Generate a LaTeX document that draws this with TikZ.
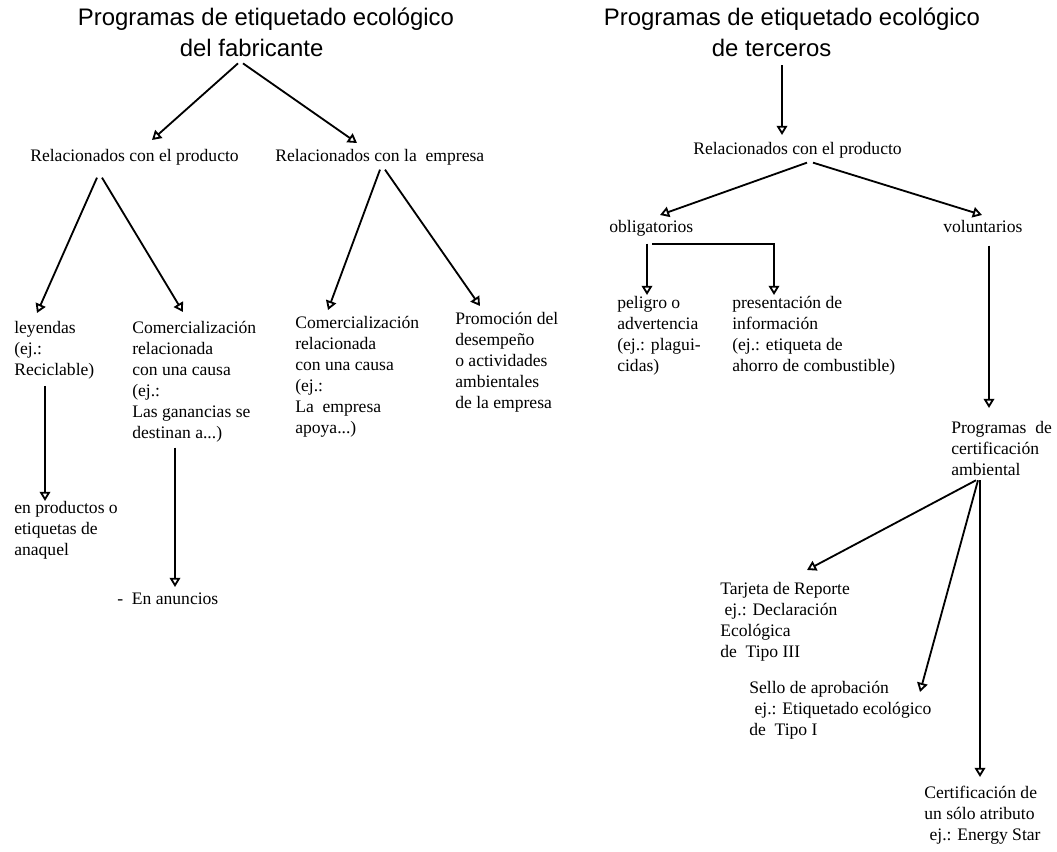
\documentclass[tikz,border=0pt]{standalone}
\usepackage{fontspec}
\setmainfont{Liberation Serif}
\setsansfont{Liberation Sans}
\usetikzlibrary{arrows.meta}

\begin{document}
\begin{tikzpicture}[x=0.025cm,y=-0.025cm,
  titulo/.style={font=\sffamily\fontsize{17}{22}\selectfont,align=center,anchor=north,inner sep=0pt,
    execute at begin node=\strut,execute at end node=\strut},
  texto/.style={font=\fontsize{12.5}{15}\selectfont,align=left,anchor=north west,inner sep=0pt,
    execute at begin node=\strut,execute at end node=\strut},
  flecha/.style={line width=1.3pt,-{Triangle[open,length=6.5pt,width=7.5pt]}}]

\useasboundingbox (0,0) rectangle (1057,852); % page

% left tree
\node[titulo] (fab) at (266,8) {Programas de etiquetado ecológico\\del fabricante\hspace*{1.2em}};
\node[texto] (prod) at (30,146) {Relacionados con el producto};
\node[texto] (emp) at (275,146) {Relacionados con la\ \ empresa};
\node[texto] (ley) at (14,321) {leyendas\\(ej.:\\Reciclable)};
\node[texto] (com1) at (132,321) {Comercialización\\relacionada\\con una causa\\(ej.:\\Las ganancias se\\destinan a...)};
\node[texto] (com2) at (295,316) {Comercialización\\relacionada\\con una causa\\(ej.:\\La\ \ empresa\\apoya...)};
\node[texto] (promo) at (455,312) {Promoción del\\desempeño\\o actividades\\ambientales\\de la empresa};
\node[texto] (anaq) at (14,501) {en productos o\\etiquetas de\\anaquel};
\node[texto] (anun) at (117,589) {-\ \ En anuncios};

\draw[flecha] ([shift={(-28,-3)}]fab.south) -- ([shift={(122,-6)}]prod.north west);
\draw[flecha] ([shift={(-23,-3)}]fab.south) -- ([shift={(82,-3)}]emp.north west);
\draw[flecha] ([shift={(67,10)}]prod.south west) -- ([shift={(23,-8)}]ley.north west);
\draw[flecha] ([shift={(72,10)}]prod.south west) -- ([shift={(51,-9)}]com1.north west);
\draw[flecha] ([shift={(105,2)}]emp.south west) -- ([shift={(33,-6)}]com2.north west);
\draw[flecha] ([shift={(110,2)}]emp.south west) -- ([shift={(25,-6)}]promo.north west);
\draw[flecha] ([shift={(31,3.5)}]ley.south west) -- ([shift={(31,0)}]anaq.north west);
\draw[flecha] ([shift={(43,2)}]com1.south west) -- ([shift={(58,-2)}]anun.north west);

% right tree
\node[titulo] (ter) at (792,8) {Programas de etiquetado ecológico\\de terceros\hspace*{1.7em}};
\node[texto] (prod2) at (693,139) {Relacionados con el producto};
\node[texto] (oblig) at (609,217) {obligatorios};
\node[texto] (volun) at (943,217) {voluntarios};
\node[texto] (peligro) at (617,296) {peligro o\\advertencia\\(ej.: plagui-\\cidas)};
\node[texto] (present) at (732,296) {presentación de\\información\\(ej.: etiqueta de\\ahorro de combustible)};
\node[texto] (progcert) at (951,421) {Programas\ \ de\\certificación\\ambiental};
\node[texto] (tarjeta) at (720,582) {Tarjeta de Reporte\\\hspace*{.25em}ej.: Declaración\\Ecológica\\de\ \ Tipo III};
\node[texto] (sello) at (749,681) {Sello de aprobación\\\hspace*{.3em}ej.: Etiquetado ecológico\\de\ \ Tipo I};
\node[texto] (certif) at (924,786) {Certificación de\\un sólo atributo\\\hspace*{.3em}ej.: Energy Star};

\draw[flecha] ([shift={(-10,-1)}]ter.south) -- ([shift={(89,-4)}]prod2.north west);
\draw[flecha] ([shift={(114,2)}]prod2.south west) -- ([shift={(51,-2)}]oblig.north west);
\draw[flecha] ([shift={(120,2)}]prod2.south west) -- ([shift={(39,-2)}]volun.north west);
\draw[flecha] ([shift={(38,5)}]oblig.south west) -- ([shift={(30,-1)}]peligro.north west);
\draw[flecha] ([shift={(43,5)}]oblig.south west) -| ([shift={(42,-1)}]present.north west);
\draw[flecha] ([shift={(46,7)}]volun.south west) -- ([shift={(38,-13)}]progcert.north west);
\draw[flecha] ([shift={(25,-2)}]progcert.south west) -- ([shift={(87,-12)}]tarjeta.north west);
\draw[flecha] ([shift={(27,-2)}]progcert.south west) -- ([shift={(171,11)}]sello.north west);
\draw[flecha] ([shift={(29,-2)}]progcert.south west) -- ([shift={(56,-9)}]certif.north west);

\end{tikzpicture}
\end{document}
